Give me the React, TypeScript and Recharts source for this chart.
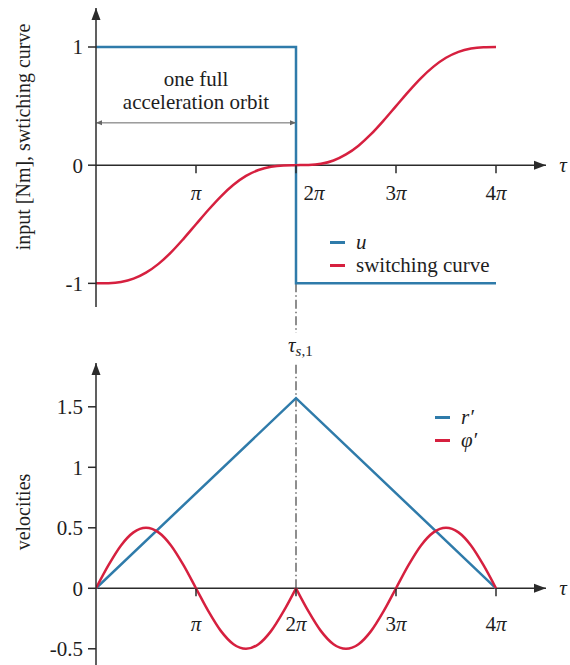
import React from 'react'
import {
    LineChart,
    Line,
    XAxis,
    YAxis,
    ReferenceLine,
    ReferenceDot,
    Legend,
} from 'recharts'

// tau is stored in multiples of pi
const TAU = [0, 0.125, 0.25, 0.375, 0.5, 0.625, 0.75, 0.875, 1, 1.125, 1.25, 1.375, 1.5, 1.625, 1.75, 1.875, 2,
    2.125, 2.25, 2.375, 2.5, 2.625, 2.75, 2.875, 3, 3.125, 3.25, 3.375, 3.5, 3.625, 3.75, 3.875, 4]
const SWITCHING = [-1, -0.998, -0.988, -0.96, -0.909, -0.835, -0.738, -0.623, -0.5, -0.377, -0.263, -0.166, -0.091,
    -0.041, -0.013, -0.002, 0, 0.002, 0.012, 0.04, 0.091, 0.165, 0.262, 0.377, 0.5, 0.623, 0.737, 0.834, 0.909,
    0.959, 0.987, 0.998, 1]
const PHI_PRIME = [0, 0.191, 0.354, 0.462, 0.5, 0.462, 0.354, 0.191, 0, -0.191, -0.354, -0.462, -0.5, -0.462, -0.354,
    -0.191, 0, -0.191, -0.354, -0.462, -0.5, -0.462, -0.354, -0.191, 0, 0.191, 0.354, 0.462, 0.5, 0.462, 0.354,
    0.191, 0]
const U_TAU = [0, 2, 2, 4]
const U_VAL = [1, 1, -1, -1]
const R_TAU = [0, 2, 4]
const R_VAL = [0, 1.571, 0]
const TAU_SWITCH = 2
const ORBIT_Y = 0.358
const X_TICKS = [1, 2, 3, 4]
const TOP_Y_TICKS = [-1, 0, 1]
const BOTTOM_Y_TICKS = [-0.5, 0, 0.5, 1, 1.5]

const BLUE = '#2f7baa'
const RED = '#d6203f'
const AXIS = '#2b2b2b'
const TEXT = '#1e1e1e'
const FONT = '"Liberation Serif", "DejaVu Serif", serif'
const FS = 21

const switchingData = TAU.map((t, i) => ({ t, v: SWITCHING[i] }))
const uData = U_TAU.map((t, i) => ({ t, v: U_VAL[i] }))
const rData = R_TAU.map((t, i) => ({ t, v: R_VAL[i] }))
const phiBefore = TAU.map((t, i) => ({ t, v: PHI_PRIME[i] })).filter(d => d.t <= TAU_SWITCH)
const phiAfter = TAU.map((t, i) => ({ t, v: PHI_PRIME[i] })).filter(d => d.t >= TAU_SWITCH)

const piLabel = (k: number) => (
    <>
        {k > 1 ? <tspan>{k}</tspan> : null}
        <tspan fontStyle="italic">π</tspan>
    </>
)

// tick mark hanging below the tau axis plus its label
const xTick = (k: number, dx: number, dy: number) => (props: any) => (
    <g>
        <line x1={props.cx} y1={props.cy} x2={props.cx} y2={props.cy + 8} stroke={AXIS} strokeWidth={1.5} />
        <text x={props.cx + dx} y={props.cy + dy} textAnchor="middle" fontFamily={FONT} fontSize={FS} fill={TEXT}>
            {piLabel(k)}
        </text>
    </g>
)

const xArrow = (props: any) => (
    <g>
        <path d={`M${props.cx},${props.cy} l-12,-4.5 l0,9 z`} fill={AXIS} />
        <text x={props.cx + 17} y={props.cy + 7} textAnchor="middle" fontFamily={FONT} fontSize={FS}
            fontStyle="italic" fill={TEXT}>τ</text>
    </g>
)

const yArrow = (props: any) => (
    <path d={`M${props.cx},${props.cy} l-4.5,12 l9,0 z`} fill={AXIS} />
)

const orbitLeftHead = (props: any) => (
    <path d={`M${props.cx},${props.cy} l6,-2.5 l0,5 z`} fill="#666" />
)
const orbitRightHead = (props: any) => (
    <path d={`M${props.cx},${props.cy} l-6,-2.5 l0,5 z`} fill="#666" />
)
const orbitText = (props: any) => (
    <g fontFamily={FONT} fontSize={FS} fill={TEXT} textAnchor="middle">
        <text x={props.cx} y={props.cy - 37}>one full</text>
        <text x={props.cx} y={props.cy - 13.5}>acceleration orbit</text>
    </g>
)

const switchLabel = (props: any) => (
    <text x={props.cx - 8} y={props.cy - 11} fontFamily={FONT} fontSize={FS} fill={TEXT}>
        <tspan fontStyle="italic">τ</tspan>
        <tspan fontSize={15} dy={4}><tspan fontStyle="italic">s</tspan>,1</tspan>
    </text>
)

const legendContent = (items: { color: string, label: React.ReactNode }[]) => () => (
    <div style={{ fontFamily: FONT, fontSize: FS, color: TEXT, lineHeight: '23px' }}>
        {items.map((it, i) => (
            <div key={i} style={{ display: 'flex', alignItems: 'center', whiteSpace: 'nowrap' }}>
                <span style={{ display: 'inline-block', width: 15, height: 2.5, background: it.color, marginRight: 11 }} />
                {it.label}
            </div>
        ))}
    </div>
)

const yTitle = (text: string, cx: number, cy: number) => (
    <div style={{
        position: 'absolute', left: cx, top: cy, transform: 'translate(-50%, -50%) rotate(-90deg)',
        fontFamily: FONT, fontSize: 20, color: TEXT, whiteSpace: 'nowrap',
    }}>{text}</div>
)

const yAxisProps = {
    type: 'number' as const,
    width: 96,
    tickSize: 8,
    tickMargin: 5,
    interval: 0,
    allowDataOverflow: true,
    axisLine: { stroke: AXIS, strokeWidth: 1.5 },
    tickLine: { stroke: AXIS, strokeWidth: 1.5 },
    tick: { fill: TEXT, fontSize: FS, fontFamily: FONT },
}

function InputChart() {
    return (
        <LineChart width={570} height={340} margin={{ top: 8, right: 24, bottom: 33, left: 0 }}>
            <XAxis type="number" dataKey="t" domain={[0, 4.5]} hide allowDataOverflow />
            <YAxis {...yAxisProps} domain={[-1.2, 1.33]} ticks={TOP_Y_TICKS} />
            <ReferenceLine segment={[{ x: 0, y: 0 }, { x: 4.5, y: 0 }]} stroke={AXIS} strokeWidth={1.5} ifOverflow="visible" />
            <ReferenceLine segment={[{ x: TAU_SWITCH, y: -1 }, { x: TAU_SWITCH, y: -1.42 }]} stroke="#444"
                strokeWidth={1.2} strokeDasharray="9 3 1.5 3" ifOverflow="visible" />
            <ReferenceLine segment={[{ x: 0, y: ORBIT_Y }, { x: TAU_SWITCH, y: ORBIT_Y }]} stroke="#666" strokeWidth={1} />
            <ReferenceDot x={0} y={ORBIT_Y} shape={orbitLeftHead} ifOverflow="visible" />
            <ReferenceDot x={TAU_SWITCH} y={ORBIT_Y} shape={orbitRightHead} ifOverflow="visible" />
            <ReferenceDot x={TAU_SWITCH / 2} y={ORBIT_Y} shape={orbitText} ifOverflow="visible" />
            {X_TICKS.map(k => (
                <ReferenceDot key={k} x={k} y={0} shape={xTick(k, k === 2 ? 18 : 0, 35)} ifOverflow="visible" />
            ))}
            <Line data={uData} dataKey="v" type="linear" stroke={BLUE} strokeWidth={2.5} dot={false} isAnimationActive={false} />
            <Line data={switchingData} dataKey="v" type="monotone" stroke={RED} strokeWidth={2.5} dot={false} isAnimationActive={false} />
            <ReferenceDot x={4.5} y={0} shape={xArrow} ifOverflow="visible" />
            <ReferenceDot x={0} y={1.33} shape={yArrow} ifOverflow="visible" />
            <Legend layout="vertical" align="center" verticalAlign="middle"
                wrapperStyle={{ left: 330, top: 231, width: 200, height: 46 }}
                content={legendContent([
                    { color: BLUE, label: <i>u</i> },
                    { color: RED, label: 'switching curve' },
                ])} />
        </LineChart>
    )
}

function VelocityChart() {
    return (
        <LineChart width={570} height={335} margin={{ top: 33, right: 24, bottom: 0, left: 0 }}>
            <XAxis type="number" dataKey="t" domain={[0, 4.5]} hide allowDataOverflow />
            <YAxis {...yAxisProps} domain={[-0.634, 1.862]} ticks={BOTTOM_Y_TICKS} />
            <ReferenceLine segment={[{ x: 0, y: 0 }, { x: 4.5, y: 0 }]} stroke={AXIS} strokeWidth={1.5} ifOverflow="visible" />
            <ReferenceLine segment={[{ x: TAU_SWITCH, y: 0 }, { x: TAU_SWITCH, y: 1.862 }]} stroke="#444"
                strokeWidth={1.2} strokeDasharray="9 3 1.5 3" ifOverflow="visible" />
            {X_TICKS.map(k => (
                <ReferenceDot key={k} x={k} y={0} shape={xTick(k, 0, 43)} ifOverflow="visible" />
            ))}
            <Line data={rData} dataKey="v" type="linear" stroke={BLUE} strokeWidth={2.5} dot={false} isAnimationActive={false} />
            <Line data={phiBefore} dataKey="v" type="monotone" stroke={RED} strokeWidth={2.5} dot={false} isAnimationActive={false} />
            <Line data={phiAfter} dataKey="v" type="monotone" stroke={RED} strokeWidth={2.5} dot={false} isAnimationActive={false} />
            <ReferenceDot x={4.5} y={0} shape={xArrow} ifOverflow="visible" />
            <ReferenceDot x={0} y={1.862} shape={yArrow} ifOverflow="visible" />
            <ReferenceDot x={TAU_SWITCH} y={1.862} shape={switchLabel} ifOverflow="visible" />
            <Legend layout="vertical" align="center" verticalAlign="middle"
                wrapperStyle={{ left: 435, top: 76, width: 100, height: 46 }}
                content={legendContent([
                    { color: BLUE, label: <i>r′</i> },
                    { color: RED, label: <i>φ′</i> },
                ])} />
        </LineChart>
    )
}

export default function App() {
    return (
        <div style={{ position: 'absolute', left: 0, top: 0, width: 570, height: 665, background: '#fff', overflow: 'hidden' }}>
            <div style={{ position: 'absolute', left: 0, top: 0 }}>
                <InputChart />
            </div>
            <div style={{ position: 'absolute', left: 0, top: 330 }}>
                <VelocityChart />
            </div>
            {yTitle('input [Nm], swtiching curve', 23, 137)}
            {yTitle('velocities', 23, 512)}
        </div>
    )
}
